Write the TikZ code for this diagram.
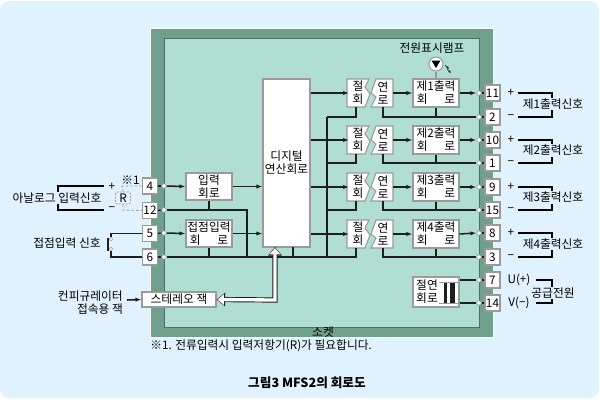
\documentclass[tikz,border=0pt]{standalone}
\usepackage{fontspec}
\setmainfont{Noto Sans CJK KR}
\usetikzlibrary{arrows.meta,calc}
\definecolor{bgc}{HTML}{DFF2FE}
\definecolor{sock}{HTML}{6F9F8D}
\definecolor{inner}{HTML}{B0DED2}
\definecolor{edge}{HTML}{9A9A9A}
\definecolor{ink}{HTML}{1E1E1E}
\newcommand{\kgap}{\hspace{12.5pt}}
\tikzset{
  x=.75pt,y=-.75pt,
  every node/.style={font=\fontsize{8.8}{9.8}\selectfont,text=black,inner sep=0pt},
  wbox/.style={draw=edge,fill=white,line width=.8pt,align=center},
  term/.style={wbox,minimum width=15*.75pt,minimum height=16*.75pt},
  halfbox/.style={align=center,minimum width=20*.75pt,minimum height=28*.75pt},
  zig/.style={draw=edge,fill=white,line width=.8pt},
  dot/.style={circle,draw=edge,fill=white,line width=.5pt,minimum size=4.5*.75pt},
  wire/.style={draw=ink,line width=1.15pt},
  stub/.style={draw=ink,line width=.9pt},
  flow/.style={wire,-{Latex[length=4.5pt,width=3.2pt]}},
  brk/.style={draw=black,line width=1.15pt},
  lab/.style={fill=bgc,inner xsep=1pt,inner ysep=.5pt},
  dsh/.style={draw=edge,line width=.6pt,dash pattern=on 2pt off 1.5pt},
}
\begin{document}
\begin{tikzpicture}
\useasboundingbox (0,0) rectangle (600,401);
\fill[white] (0,0) rectangle (600,401);
\fill[bgc,rounded corners=7pt] (0,1) rectangle (599,398);
\filldraw[fill=sock,draw=white,line width=.5pt] (150,28) rectangle (493,337);
\filldraw[fill=inner,draw=sock!70!black,line width=.5pt] (164,38) rectangle (479,327);

% zigzag halves
\foreach \t in {79,126,173,220}{
  \path[zig] (347,\t) -- (369,\t) -- (365,\t+8) -- (370,\t+15) -- (365,\t+28) -- (347,\t+28) -- cycle;
  \path[zig] (376,\t) -- (371,\t+14) -- (376,\t+18) -- (371,\t+28) -- (393,\t+28) -- (393,\t) -- cycle;
}

% main boxes
\node[wbox,minimum width=46*.75pt,minimum height=27*.75pt] (inbox) at (209,186.5) {입력\\회로};
\node[wbox,minimum width=46*.75pt,minimum height=27*.75pt] (contact) at (209,233.5) {접점입력\\회\kgap 로};
\node[wbox,minimum width=74*.75pt,minimum height=15*.75pt] (stereo) at (179,299.5) {스테레오 잭};
\node[wbox,minimum width=47*.75pt,minimum height=168*.75pt] (dig) at (286.5,163) {디지털\\연산회로};
\node[wbox,minimum width=46*.75pt,minimum height=30*.75pt] (iso) at (436,292) {};
\node[align=center] (isot) at (427,292) {절연\\회로};

% input terminals
\node[term] (t4) at (150,186) {4};
\node[term] (t12) at (150,210.5) {12};
\node[term] (t5) at (150,233.5) {5};
\node[term] (t6) at (150,257) {6};
\node[dot] (d4) at (164,186) {};
\node[dot] (d12) at (164,210) {};
\node[dot] (d5) at (164,233) {};
\node[dot] (d6) at (164,257) {};

% power terminals
\node[term] (t7) at (492.5,280) {7};
\node[term] (t14) at (492.5,303) {14};
\node[dot] (d7) at (479,280) {};
\node[dot] (d14) at (479,303) {};

% output channels
\foreach \i/\t/\a/\b/\ya/\yb in {1/79/11/2/93/117,2/126/10/1/140/163,3/173/9/15/187/210,4/220/8/3/233/257}{
  \node[halfbox] (j\i) at (358,\t+14) {절\\회};
  \node[halfbox] (y\i) at (383,\t+14) {연\\로};
  \node[wbox,minimum width=46*.75pt,minimum height=28*.75pt] (o\i) at (436,\t+14) {제\i 출력\\회\kgap 로};
  \node[term] (ta\i) at (492.5,\ya) {\a};
  \node[term] (tb\i) at (492.5,\yb) {\b};
  \node[dot] (da\i) at (479,\ya) {};
  \node[dot] (db\i) at (479,\yb) {};
  \coordinate (jb\i) at (356,\t+28);
  \coordinate (busj\i) at (327,\yb);
  \draw[flow] (dig.east |- j\i.west) -- ([xshift=1pt]j\i.west);
  \draw[flow] (y\i.east) -- (o\i.west);
  \draw[flow] (o\i.east) -- (da\i.west);
  \draw[stub] (da\i) -- (ta\i);
  \draw[stub] (db\i) -- (tb\i);
  \draw[wire] (y\i.south) |- (db\i.west);
  \draw[wire] (o\i.south) -- (o\i.south |- db\i);
  \draw[wire] (jb\i) |- (busj\i);
}

% input wiring
\coordinate (turn) at (247,210);
\coordinate (dstub) at (293,247);
\draw[stub] (t4) -- (d4);
\draw[stub] (t12) -- (d12);
\draw[stub] (t5) -- (d5);
\draw[stub] (t6) -- (d6);
\draw[flow] (d4) -- (inbox.west);
\draw[flow] (d5) -- (contact.west);
\draw[flow] (inbox.east) -- (inbox.east -| dig.west);
\draw[flow] (contact.east) -- (contact.east -| dig.west);
\draw[wire] (d12) -- (turn) -- (turn |- d6);
\draw[wire] (inbox.south) -- (inbox.south |- d12);
\draw[wire] (contact.south) -- (contact.south |- d6);
\draw[wire] (d6) -- (busj4);
\draw[wire] (dstub) -- (dstub |- d6);
\draw[wire] (busj1) -- (busj4);

% hollow arrow
\coordinate (hup) at (275,247);
\coordinate (hcorner) at (275,300);
\draw[draw=ink,line width=3.9pt,{Triangle[length=6.5pt,width=10pt]}-{Triangle[length=6.5pt,width=10pt]},ink] (stereo.east) -- (hcorner) -- (hup);
\draw[draw=white,line width=2.5pt,{Triangle[length=4.8pt,width=7.6pt]}-{Triangle[length=4.8pt,width=7.6pt]},white,shorten >=.7pt,shorten <=.7pt] (stereo.east) -- (hcorner) -- (hup);

% power wiring
\draw[wire] (iso.east |- d7) -- (d7);
\draw[wire] (iso.east |- d14) -- (d14);
\draw[stub] (d7) -- (t7);
\draw[stub] (d14) -- (t14);
\fill[ink] (444,282) rectangle (446.5,303);
\fill[ink] (450,282) rectangle (455,303);
\draw[edge,line width=.6pt] (439,282) -- (458,282);
\draw[edge,line width=.6pt] (439,303) -- (458,303);

% lamp
\node[circle,draw=edge,fill=white,line width=.8pt,minimum size=14*.75pt] (lamp) at (436,64) {};
\fill[black] (431.5,60.5) -- (440.5,60.5) -- (436,68) -- cycle;
\draw[edge,line width=.8pt] (lamp.south) -- (o1.north);
\node (lamplab) at (432,48) {전원표시램프};
\draw[ink,line width=.5pt,-{Latex[length=2pt,width=2pt]}] (445,65) -- (449,69);
\draw[ink,line width=.5pt,-{Latex[length=2pt,width=2pt]}] (447,69) -- (451,73);

% left side
\node (plus) at (112,187) {+};
\node (minus) at (112,209) {−};
\node (note) at (130.5,180) {※1};
\node[draw=edge,rounded corners=1.5pt,dash pattern=on 1.5pt off 1pt,line width=.6pt,fill=bgc,minimum width=15*.75pt,minimum height=12*.75pt] (R) at (123,198) {R};
\draw[dsh] (t4.west) -- (122,186) -- (R.north);
\draw[dsh] (R.south) -- (123,210) -- (t12.west);
\coordinate (la) at (104,186);
\coordinate (lb) at (104,210);
\draw[brk] (la) -- (58,186) -- (58,210) -- (lb);
\node[lab] (anlab) at (57,198) {아날로그 입력신호};

\node (swlab) at (67,243) {접점입력 신호};
\fill[ink] (106.5,238) rectangle (108.5,250.5);
\node[dot,minimum size=3.5*.75pt] (s1) at (111,239) {};
\node[dot,minimum size=3.5*.75pt] (s2) at (111,249) {};
\draw[stub] (s1.north) |- (t5.west);
\draw[stub] (s2.south) |- (t6.west);

\node[anchor=east] (cfg1) at (123,296) {컨피규레이터};
\node (cfg2) at (100,309) {접속용 잭};
\coordinate (cfgend) at (127,300);
\draw[flow] (cfgend) -- (stereo.west);

% right side labels
\foreach \i/\ya/\yb in {1/93/117,2/140/163,3/187/210,4/233/257}{
  \node (pl\i) at (511,\ya) {+};
  \node (mi\i) at (511,\yb) {−};
  \coordinate (ra\i) at (518,\ya);
  \coordinate (rb\i) at (518,\yb);
  \draw[brk] (ra\i) -- (552,\ya) -- (552,\yb) -- (rb\i);
  \node[lab] (rl\i) at (553,{(\ya+\yb)/2-1}) {제\i 출력신호};
}
\node (uu) at (519,280) {U(+)};
\node (vv) at (519,303) {V(−)};
\coordinate (pa) at (536,280);
\coordinate (pb) at (536,303);
\draw[brk] (pa) -- (552,280) -- (552,303) -- (pb);
\node[lab] (pw) at (553,293) {공급전원};

% bottom
\node (sk) at (323,332) {소켓};
\node[anchor=west] (fn) at (150,346) {※1. 전류입력시 입력저항기(R)가 필요합니다.};
\node[font=\fontsize{9.5}{10}\bfseries\selectfont] (title) at (307,383) {그림3 MFS2의 회로도};
\end{tikzpicture}
\end{document}
